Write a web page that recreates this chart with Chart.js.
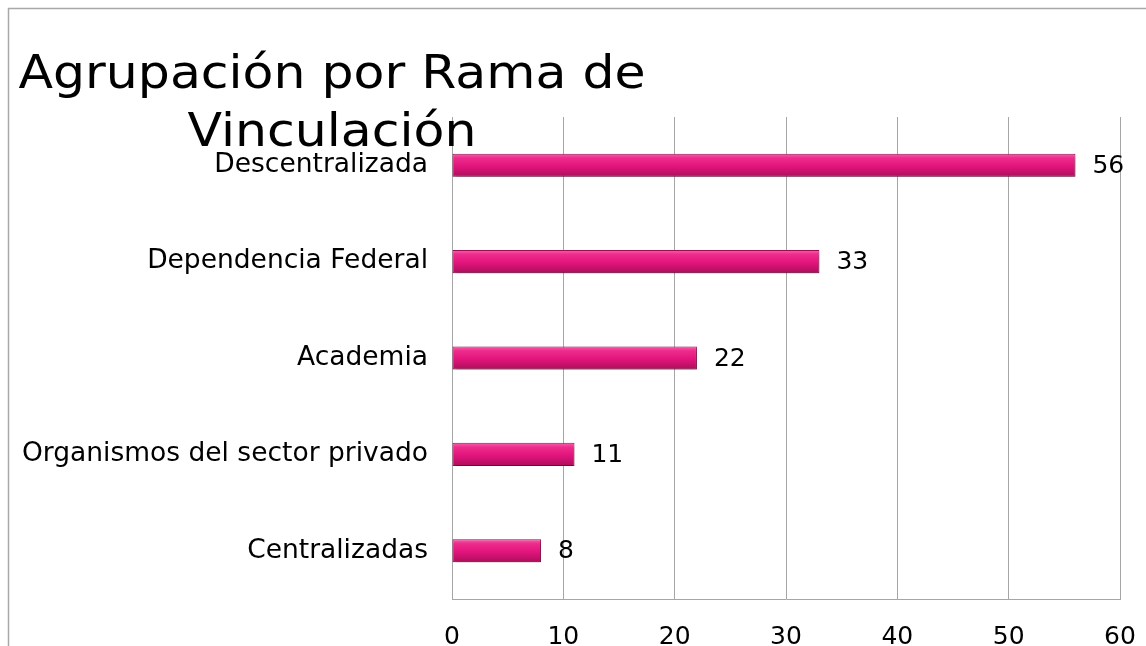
<!DOCTYPE html>
<html>
<head>
<meta charset="utf-8">
<script src="https://cdn.jsdelivr.net/npm/chart.js@4"></script>
<style>
  html, body { margin: 0; padding: 0; background: #fff; }
  #wrap { width: 1146px; height: 646px; position: relative; }
</style>
</head>
<body>
<div id="wrap"><canvas id="barChart"></canvas></div>
<script>
const categories = ['Descentralizada', 'Dependencia Federal', 'Academia', 'Organismos del sector privado', 'Centralizadas'];
const values = [56, 33, 22, 11, 8];
const xTicks = [0, 10, 20, 30, 40, 50, 60];
const titleLines = ['Agrupación por Rama de', 'Vinculación'];

const FONT = '"DejaVu Sans"';
const gridColor = '#a6a6a6';

// frame + title, drawn by hand so the plot area stays where it is in the original
const decor = {
  id: 'decor',
  beforeDraw(chart) {
    const ctx = chart.ctx;
    ctx.save();
    ctx.strokeStyle = '#a8a8a8';
    ctx.lineWidth = 1.5;
    ctx.strokeRect(8.5, 8.5, 1200, 700);
    ctx.restore();
  },
  afterDraw(chart) {
    const ctx = chart.ctx;
    ctx.save();
    ctx.fillStyle = '#000';
    ctx.font = '46px ' + FONT;
    ctx.textAlign = 'center';
    ctx.textBaseline = 'alphabetic';
    // the original face is wider than DejaVu, stretch a little sideways
    const stretch = 627 / ctx.measureText(titleLines[0]).width;
    ctx.translate(332, 0);
    ctx.scale(stretch, 1);
    ctx.fillText(titleLines[0], 0, 88);
    ctx.fillText(titleLines[1], 0, 146);
    ctx.restore();
  }
};

// value labels at the end of each bar
const valueLabels = {
  id: 'valueLabels',
  afterDatasetsDraw(chart) {
    const ctx = chart.ctx;
    const meta = chart.getDatasetMeta(0);
    ctx.save();
    ctx.fillStyle = '#000';
    ctx.font = '25px ' + FONT;
    ctx.textAlign = 'left';
    ctx.textBaseline = 'middle';
    meta.data.forEach((bar, i) => {
      ctx.fillText(String(values[i]), bar.x + 17, bar.y + 1);
    });
    ctx.restore();
  }
};

// soft drop shadow under the bars
const barShadow = {
  id: 'barShadow',
  beforeDatasetsDraw(chart) {
    const ctx = chart.ctx;
    ctx.save();
    ctx.shadowColor = 'rgba(0,0,0,0.35)';
    ctx.shadowBlur = 4;
    ctx.shadowOffsetX = 1;
    ctx.shadowOffsetY = 3;
  },
  afterDatasetsDraw(chart) {
    chart.ctx.restore();
  }
};

function barFill(context) {
  const chart = context.chart;
  const yScale = chart.scales.y;
  if (!yScale || context.dataIndex === undefined) return '#e6177a';
  const cy = yScale.getPixelForValue(context.dataIndex);
  if (!Number.isFinite(cy)) return '#e6177a';
  const g = chart.ctx.createLinearGradient(0, cy - 12, 0, cy + 12);
  g.addColorStop(0, '#f865b0');
  g.addColorStop(0.2, '#ee2c8c');
  g.addColorStop(0.55, '#e2147c');
  g.addColorStop(1, '#a90e58');
  return g;
}

new Chart(document.getElementById('barChart'), {
  type: 'bar',
  data: {
    labels: categories,
    datasets: [{
      data: values,
      backgroundColor: barFill,
      borderColor: '#9e0f55',
      borderWidth: 1,
      borderSkipped: false,
      barPercentage: 0.5,
      categoryPercentage: 0.48
    }]
  },
  options: {
    indexAxis: 'y',
    responsive: true,
    maintainAspectRatio: false,
    animation: false,
    layout: { padding: { top: 117, right: 26, left: 0, bottom: 0 } },
    plugins: {
      legend: { display: false },
      tooltip: { enabled: false }
    },
    scales: {
      x: {
        min: 0,
        max: 60,
        afterBuildTicks: (s) => { s.ticks = xTicks.map(v => ({ value: v })); },
        afterFit: (s) => { s.height = 47; s.paddingLeft = 0; s.paddingRight = 0; },
        grid: { color: gridColor, lineWidth: 1, drawTicks: false },
        border: { display: true, color: gridColor, width: 1 },
        ticks: { color: '#000', font: { family: FONT, size: 25 }, padding: 23 }
      },
      y: {
        afterFit: (s) => { s.width = 452; },
        grid: { display: false, drawTicks: false },
        border: { display: false },
        ticks: { color: '#000', font: { family: FONT, size: 26.5 }, padding: 24 }
      }
    }
  },
  plugins: [decor, barShadow, valueLabels]
});
</script>
</body>
</html>
